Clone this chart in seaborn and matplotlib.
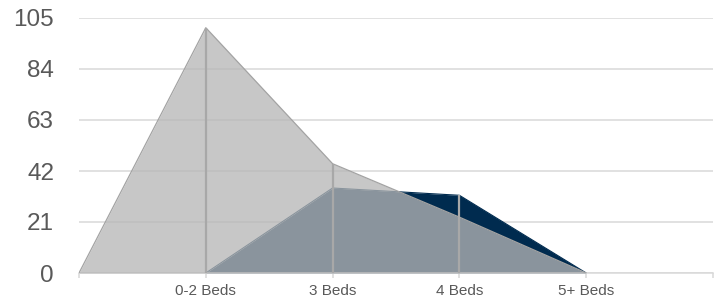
import numpy as np
import matplotlib
matplotlib.use("Agg")
import matplotlib.pyplot as plt
import seaborn as sns

# ----- data -----
categories = ["", "0-2 Beds", "3 Beds", "4 Beds", "5+ Beds", ""]
grey_vals  = [0, 101, 45, 23, 0, np.nan]
navy_vals  = [np.nan, 0, 35, 32, 0, np.nan]
y_ticks    = [0, 21, 42, 63, 84, 105]

GREY = "#b6b6b6"
NAVY = "#002b4f"
TEXT = "#595959"
GRID = "#d9d9d9"

sns.set_theme(style="white")
plt.rcParams["font.family"] = ["Liberation Sans", "DejaVu Sans"]

x = np.arange(len(categories))
grey = np.array(grey_vals, dtype=float)
navy = np.array(navy_vals, dtype=float)

fig = plt.figure(figsize=(7.2, 3.03), dpi=100)
ax = fig.add_axes([79 / 720, 1 - 273 / 303, (713 - 79) / 720, (273 - 18) / 303])

# navy area first, grey translucent on top
ok = ~np.isnan(navy)
ax.fill_between(x[ok], 0, navy[ok], color=NAVY, linewidth=0, zorder=2)
sns.lineplot(x=x[ok], y=navy[ok], color=NAVY, linewidth=0.8, ax=ax, zorder=2)

ok = ~np.isnan(grey)
ax.fill_between(x[ok], 0, grey[ok], color=GREY, alpha=0.76, linewidth=0, zorder=3)
sns.lineplot(x=x[ok], y=grey[ok], color="#a3a3a3", linewidth=0.9, ax=ax, zorder=3)

# drop lines at each category up to the highest series
top = np.nanmax(np.vstack([grey, navy]), axis=0)
inner = [1, 2, 3, 4]
ax.vlines(x[inner], 0, top[inner], color="#a8a8a8", linewidth=1.6, zorder=4)

ax.set_xlim(0, len(categories) - 1)
ax.set_ylim(0, 105)
ax.set_yticks(y_ticks)
ax.set_xticks(x)
ax.set_xticklabels(categories)
ax.yaxis.grid(True, color=GRID, linewidth=1.1, zorder=0)
ax.set_axisbelow(True)

for s in ["left", "right", "top"]:
    ax.spines[s].set_visible(False)
ax.spines["bottom"].set_color(GRID)
ax.spines["bottom"].set_linewidth(1.1)

ax.tick_params(axis="x", length=3.6, width=1.1, color=GRID, colors=TEXT,
               labelsize=11, pad=4.5, bottom=True)
ax.tick_params(axis="y", length=0, colors=TEXT, labelsize=17.5, pad=18)
ax.set_xlabel("")
ax.set_ylabel("")

fig.savefig("out.png", dpi=100)
